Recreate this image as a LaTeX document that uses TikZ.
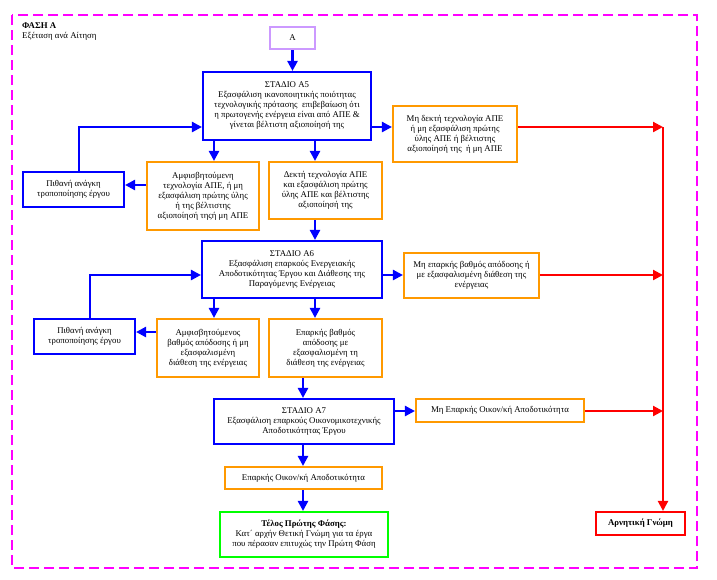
\documentclass[tikz,border=0pt]{standalone}
\usepackage{fontspec}
\setmainfont{Liberation Serif}
\usetikzlibrary{arrows.meta}
\definecolor{cBlue}{HTML}{0000FF}
\definecolor{cOrange}{HTML}{FF9900}
\definecolor{cRed}{HTML}{FF0000}
\definecolor{cGreen}{HTML}{00FF00}
\definecolor{cViolet}{HTML}{CC99FF}
\definecolor{cMag}{HTML}{FF00FF}
\newcommand{\sz}{\fontsize{8.8}{10}\selectfont}
\tikzset{
  boxbase/.style={inner sep=0pt, align=center, font=\sz, line width=2.1pt},
  bbox/.style={boxbase, draw=cBlue},
  obox/.style={boxbase, draw=cOrange},
  rbox/.style={boxbase, draw=cRed},
  gbox/.style={boxbase, draw=cGreen},
  vbox/.style={boxbase, draw=cViolet},
  barrow/.style={draw=cBlue, line width=2.4pt, -{Triangle[length=10pt,width=10pt]}},
  rarrow/.style={draw=cRed, line width=2.2pt, -{Triangle[length=10pt,width=10pt]}},
  frame/.style={draw=cMag, line width=2pt, dash pattern=on 10pt off 5pt}
}
\begin{document}
\begin{tikzpicture}[x=1pt,y=-1pt]
\useasboundingbox (0,0) rectangle (717,579);
\draw[frame] (12,15) rectangle (697,568);
\node[anchor=west, font=\sz\bfseries, inner sep=0pt] (ph) at (22,26) {ΦΑΣΗ Α};
\node[anchor=west, font=\sz, inner sep=0pt] (phs) at (22,36.5) {Εξέταση ανά Αίτηση};

% coordinates
\coordinate (c1) at (214,0);
\coordinate (c2) at (315,0);
\coordinate (c3) at (303,0);
\coordinate (fx1) at (79,0);
\coordinate (fx2) at (90,0);
\coordinate (rv) at (663,0);
\coordinate (r1) at (0,127);
\coordinate (r2) at (0,275);
\coordinate (r3) at (0,411);
\coordinate (r4) at (0,185);
\coordinate (r5) at (0,332);

% nodes
\node[vbox, minimum width=45pt, minimum height=22pt] (A) at (292.5,38) {Α};
\node[bbox, minimum width=168pt, minimum height=68pt] (A5) at (287,106) {ΣΤΑΔΙΟ Α5\\Εξασφάλιση ικανοποιητικής ποιότητας\\τεχνολογικής πρότασης \ επιβεβαίωση ότι\\η πρωτογενής ενέργεια είναι από ΑΠΕ \&\\γίνεται βέλτιστη αξιοποίησή της};
\node[obox, minimum width=124pt, minimum height=56pt] (ML1) at (455,134) {Μη δεκτή τεχνολογία ΑΠΕ\\ή μη εξασφάλιση πρώτης\\ύλης ΑΠΕ ή βέλτιστης\\αξιοποίησή της \ ή μη ΑΠΕ};
\node[obox, minimum width=112pt, minimum height=68pt] (Am1) at (203,196) {Αμφισβητούμενη\\τεχνολογία ΑΠΕ, ή μη\\εξασφάλιση πρώτης ύλης\\ή της βέλτιστης\\αξιοποίησή τηςή μη ΑΠΕ};
\node[obox, minimum width=113pt, minimum height=57pt] (D1) at (325.5,190.5) {Δεκτή τεχνολογία ΑΠΕ\\και εξασφάλιση πρώτης\\ύλης ΑΠΕ και βέλτιστης\\αξιοποίησή της};
\node[bbox, minimum width=101pt, minimum height=35pt] (P1) at (73.5,189.5) {Πιθανή ανάγκη\\τροποποίησης έργου};
\node[bbox, minimum width=180pt, minimum height=57pt] (A6) at (292,269.5) {ΣΤΑΔΙΟ Α6\\Εξασφάλιση επαρκούς Ενεργειακής\\Αποδοτικότητας Έργου και Διάθεσης της\\Παραγόμενης Ενέργειας};
\node[obox, minimum width=135pt, minimum height=45pt] (ML2) at (471.5,275.5) {Μη επαρκής βαθμός απόδοσης ή\\με εξασφαλισμένη διάθεση της\\ενέργειας};
\node[bbox, minimum width=101pt, minimum height=35pt] (P2) at (84.5,336.5) {Πιθανή ανάγκη\\τροποποίησης έργου};
\node[obox, minimum width=102pt, minimum height=58pt] (Am2) at (208,348) {Αμφισβητούμενος\\βαθμός απόδοσης ή μη\\εξασφαλισμένη\\διάθεση της ενέργειας};
\node[obox, minimum width=113pt, minimum height=58pt] (D2) at (325.5,348) {Επαρκής βαθμός\\απόδοσης με\\εξασφαλισμένη τη\\διάθεση της ενέργειας};
\node[bbox, minimum width=180pt, minimum height=45pt] (A7) at (304,421.5) {ΣΤΑΔΙΟ Α7\\Εξασφάλιση επαρκούς Οικονομικοτεχνικής\\Αποδοτικότητας Έργου};
\node[obox, minimum width=168pt, minimum height=23pt] (ML3) at (500,410.5) {Μη Επαρκής Οικον/κή Αποδοτικότητα};
\node[obox, minimum width=157pt, minimum height=22pt] (D3) at (303.5,478) {Επαρκής Οικον/κή Αποδοτικότητα};
\node[gbox, minimum width=168pt, minimum height=45pt] (END) at (304,534.5) {\textbf{Τέλος Πρώτης Φάσης:}\\Κατ΄ αρχήν Θετική Γνώμη για τα έργα\\που πέρασαν επιτυχώς την Πρώτη Φάση};
\node[rbox, minimum width=89pt, minimum height=23pt, font=\sz\bfseries] (NEG) at (640.5,523.5) {Αρνητική Γνώμη};

% blue connectors
\draw[barrow] (A.south) -- (A.south |- A5.north);
\draw[barrow] (A5.south -| c1) -- (Am1.north -| c1);
\draw[barrow] (A5.south -| c2) -- (D1.north -| c2);
\draw[barrow] (A5.east |- r1) -- (ML1.west |- r1);
\draw[barrow] (Am1.west |- r4) -- (P1.east |- r4);
\draw[barrow] (P1.north -| fx1) |- (A5.west |- r1);
\draw[barrow] (D1.south -| c2) -- (A6.north -| c2);
\draw[barrow] (A6.east |- r2) -- (ML2.west |- r2);
\draw[barrow] (A6.south -| c1) -- (Am2.north -| c1);
\draw[barrow] (A6.south -| c2) -- (D2.north -| c2);
\draw[barrow] (Am2.west |- r5) -- (P2.east |- r5);
\draw[barrow] (P2.north -| fx2) |- (A6.west |- r2);
\draw[barrow] (D2.south -| c3) -- (A7.north -| c3);
\draw[barrow] (A7.east |- r3) -- (ML3.west |- r3);
\draw[barrow] (A7.south -| c3) -- (D3.north -| c3);
\draw[barrow] (D3.south -| c3) -- (END.north -| c3);

% red connectors
\draw[rarrow] (ML1.east |- r1) -- (rv |- r1);
\draw[rarrow] (ML2.east |- r2) -- (rv |- r2);
\draw[rarrow] (ML3.east |- r3) -- (rv |- r3);
\draw[rarrow] (rv |- r1) -- (NEG.north -| rv);
\end{tikzpicture}
\end{document}
